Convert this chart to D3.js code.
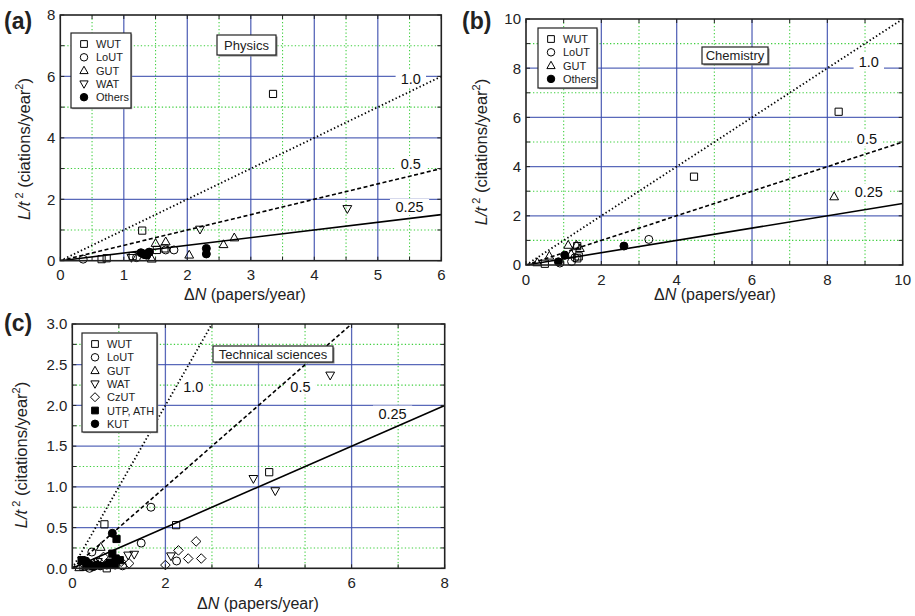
<!DOCTYPE html>
<html><head><meta charset="utf-8">
<script src="https://cdn.jsdelivr.net/npm/d3@7"></script>
<style>body{margin:0;background:#fff}svg{display:block;font-family:"Liberation Sans",Arial,sans-serif}</style>
</head><body><svg id="c" width="915" height="616"></svg>
<script>
// ---------- DATA ----------
const physWUT = [[3.35,5.43],[1.29,0.98],[0.65,0.05],[0.73,0.08],[1.14,0.15],[1.52,0.35],[1.64,0.40]];
const physLoUT = [[0.36,0.05],[1.79,0.35],[1.66,0.35],[1.2,0.1]];
const physGUT = [[1.5,0.57],[1.66,0.62],[2.03,0.19],[2.57,0.53],[2.74,0.75],[1.44,0.06]];
const physWAT = [[4.52,1.69],[2.2,1.02],[1.12,0.1]];
const physOthers = [[1.27,0.26],[1.32,0.2],[1.36,0.18],[1.4,0.28],[2.3,0.40],[2.3,0.22]];

const chemWUT = [[8.3,6.23],[4.46,3.59],[1.36,0.27],[1.36,0.77],[1.4,0.35],[0.5,0.05]];
const chemLoUT = [[3.26,1.04],[1.21,0.14],[1.3,0.3],[0.9,0.08]];
const chemGUT = [[8.18,2.78],[1.12,0.81],[1.34,0.81],[1.43,0.68],[0.62,0.37],[1.2,0.45],[0.3,0.1]];
const chemOthers = [[0.86,0.13],[1.03,0.40],[2.6,0.77]];

const techWUT = [[0.69,0.54],[2.23,0.53],[4.23,1.18],[0.24,0.02],[0.74,0.0],[0.45,0.03]];
const techLoUT = [[1.69,0.75],[1.48,0.31],[0.42,0.20],[2.24,0.09],[0.37,0.0],[1.08,0.03],[0.8,0.05]];
const techGUT = [[0.61,0.26],[0.15,0.01],[0.3,0.02],[0.55,0.05]];
const techWAT = [[5.54,2.37],[3.89,1.1],[4.36,0.95],[1.2,0.16],[1.33,0.17],[2.12,0.15],[0.55,0.08]];
const techCzUT = [[2.66,0.33],[2.28,0.22],[2.0,0.04],[2.49,0.12],[2.77,0.12],[1.22,0.06],[0.67,0.14],[0.5,0.06],[1.05,0.08]];
const techUTP = [[0.95,0.36],[0.86,0.18],[0.2,0.1],[1.02,0.1],[0.8,0.07],[0.3,0.05],[0.93,0.12]];
const techKUT = [[0.86,0.43],[0.34,0.06],[0.52,0.04],[0.74,0.04],[0.92,0.04],[0.29,0.09],[0.6,0.03],[0.45,0.02]];

const slopes = [1.0, 0.5, 0.25];
const physXTicks = [0,1,2,3,4,5,6];
const physYTicks = [0,2,4,6,8];
const chemXTicks = [0,2,4,6,8,10];
const chemYTicks = [0,2,4,6,8,10];
const techXTicks = [0,2,4,6,8];
const techYTicks = [0,0.5,1.0,1.5,2.0,2.5,3.0];

// ---------- DRAWING ----------
const svg = d3.select("#c");
const BLUE = "#3d4fae", GREEN = "#3fcf3f";

function symPath(type, s) {
  const p = d3.path();
  if (type === "square" || type === "fsquare") { p.rect(-s*0.45, -s*0.45, s*0.9, s*0.9); }
  else if (type === "circle" || type === "fcircle") { p.arc(0,0,s*0.5,0,2*Math.PI); }
  else if (type === "up") { p.moveTo(0,-s*0.58); p.lineTo(s*0.55,s*0.4); p.lineTo(-s*0.55,s*0.4); p.closePath(); }
  else if (type === "down") { p.moveTo(0,s*0.58); p.lineTo(s*0.55,-s*0.4); p.lineTo(-s*0.55,-s*0.4); p.closePath(); }
  else if (type === "diamond") { p.moveTo(0,-s*0.6); p.lineTo(s*0.6,0); p.lineTo(0,s*0.6); p.lineTo(-s*0.6,0); p.closePath(); }
  return p.toString();
}
const filled = t => t === "fcircle" || t === "fsquare";

function panel(cfg) {
  const x = d3.scaleLinear().domain(cfg.xd).range([cfg.l, cfg.r]);
  const y = d3.scaleLinear().domain(cfg.yd).range([cfg.b, cfg.t]);
  const g = svg.append("g");
  const clipId = "clip" + cfg.id;
  svg.append("clipPath").attr("id", clipId).append("rect")
    .attr("x", cfg.l).attr("y", cfg.t).attr("width", cfg.r - cfg.l).attr("height", cfg.b - cfg.t);

  const xMinor = cfg.xTicks.slice(0,-1).map((v,i)=> (v + cfg.xTicks[i+1])/2);
  const yMinor = cfg.yTicks.slice(0,-1).map((v,i)=> (v + cfg.yTicks[i+1])/2);
  g.selectAll(".gxm").data(xMinor).join("line").attr("x1", d=>x(d)).attr("x2", d=>x(d))
    .attr("y1", cfg.t).attr("y2", cfg.b).attr("stroke", GREEN).attr("stroke-width", 1.1).attr("stroke-dasharray", "1.3,2.2");
  g.selectAll(".gym").data(yMinor).join("line").attr("y1", d=>y(d)).attr("y2", d=>y(d))
    .attr("x1", cfg.l).attr("x2", cfg.r).attr("stroke", GREEN).attr("stroke-width", 1.1).attr("stroke-dasharray", "1.3,2.2");
  g.selectAll(".gx").data(cfg.xTicks.slice(1,-1)).join("line").attr("x1", d=>x(d)).attr("x2", d=>x(d))
    .attr("y1", cfg.t).attr("y2", cfg.b).attr("stroke", BLUE).attr("stroke-width", 1.3).attr("opacity", 0.85);
  g.selectAll(".gy").data(cfg.yTicks.slice(1,-1)).join("line").attr("y1", d=>y(d)).attr("y2", d=>y(d))
    .attr("x1", cfg.l).attr("x2", cfg.r).attr("stroke", BLUE).attr("stroke-width", 1.3).attr("opacity", 0.85);

  const lab = g.selectAll(".sl").data(cfg.slopeLab).join("g")
    .attr("transform", d => `translate(${x(d[0])},${y(d[1])})`);
  lab.append("rect").attr("x", d => -d[2].length*4.4 - 2).attr("y", -8).attr("width", d => d[2].length*8.8 + 4).attr("height", 16).attr("fill", "#fff");

  const dashes = ["1.4,2.4", "4,2.5", null];
  const lg = g.append("g").attr("clip-path", `url(#${clipId})`);
  slopes.forEach((s, i) => {
    const xe = Math.min(cfg.xd[1], cfg.yd[1] / s);
    lg.append("line").attr("x1", x(0)).attr("y1", y(0)).attr("x2", x(xe)).attr("y2", y(s*xe))
      .attr("stroke", "#000").attr("stroke-width", i===0?1.8:1.6)
      .attr("stroke-dasharray", dashes[i]);
  });
  lab.append("text").attr("text-anchor", "middle").attr("y", 5.5).attr("font-size", 14.5).attr("fill", "#111")
    .text(d => d[2]);

  const pg = g.append("g");
  cfg.series.forEach(s => {
    pg.selectAll(null).data(s.data).join("path")
      .attr("transform", d => `translate(${x(d[0])},${y(d[1])})`)
      .attr("d", symPath(s.type, 8))
      .attr("fill", filled(s.type) ? "#000" : "#fff")
      .attr("fill-opacity", filled(s.type) ? 1 : 0)
      .attr("stroke", "#000").attr("stroke-width", 1);
  });

  g.append("rect").attr("x", cfg.l).attr("y", cfg.t).attr("width", cfg.r-cfg.l).attr("height", cfg.b-cfg.t)
    .attr("fill", "none").attr("stroke", "#222").attr("stroke-width", 1.6);
  const tk = 4;
  [...cfg.xTicks, ...xMinor].forEach(v => {
    g.append("line").attr("x1", x(v)).attr("x2", x(v)).attr("y1", cfg.b).attr("y2", cfg.b - tk).attr("stroke", "#222");
    g.append("line").attr("x1", x(v)).attr("x2", x(v)).attr("y1", cfg.t).attr("y2", cfg.t + tk).attr("stroke", "#222");
  });
  [...cfg.yTicks, ...yMinor].forEach(v => {
    g.append("line").attr("y1", y(v)).attr("y2", y(v)).attr("x1", cfg.l).attr("x2", cfg.l + tk).attr("stroke", "#222");
    g.append("line").attr("y1", y(v)).attr("y2", y(v)).attr("x1", cfg.r).attr("x2", cfg.r - tk).attr("stroke", "#222");
  });

  g.selectAll(".xl").data(cfg.xTicks).join("text").attr("x", d=>x(d)).attr("y", cfg.b + 19.5)
    .attr("text-anchor", "middle").attr("font-size", 15).attr("fill", "#222").text(d => cfg.xfmt(d));
  g.selectAll(".yl").data(cfg.yTicks).join("text").attr("x", cfg.l - 5).attr("y", d=>y(d) + 5.3)
    .attr("text-anchor", "end").attr("font-size", 15).attr("fill", "#222").text(d => cfg.yfmt(d));

  const xt = g.append("text").attr("x", cfg.xlx).attr("y", cfg.xly).attr("text-anchor", "middle").attr("font-size", 16).attr("fill", "#222");
  xt.append("tspan").text("\u0394");
  xt.append("tspan").attr("font-style", "italic").text("N");
  xt.append("tspan").text(" (papers/year)");
  const yt = g.append("text").attr("transform", `translate(${cfg.ylx},${cfg.yly}) rotate(-90)`)
    .attr("text-anchor", "middle").attr("font-size", 16.5).attr("fill", "#222");
  yt.append("tspan").attr("font-style", "italic").text("L/t");
  yt.append("tspan").attr("dy", -7).attr("font-size", 11).text(" 2");
  yt.append("tspan").attr("dy", 7).text(" (" + cfg.yword + "/year");
  yt.append("tspan").attr("dy", -7).attr("font-size", 11).text("2");
  yt.append("tspan").attr("dy", 7).text(")");

  g.append("text").attr("x", cfg.px).attr("y", cfg.py).attr("font-size", 23).attr("font-weight", "bold").attr("fill", "#222").text(cfg.letter);

  const tb = g.append("g").attr("transform", `translate(${cfg.tbx},${cfg.tby})`);
  tb.append("rect").attr("x", 1.5).attr("y", 1.5).attr("width", cfg.tbw).attr("height", cfg.tbh).attr("fill", "#888");
  tb.append("rect").attr("width", cfg.tbw).attr("height", cfg.tbh).attr("fill", "#fff").attr("stroke", "#222").attr("stroke-width", 1.2);
  tb.append("text").attr("x", cfg.tbw/2).attr("y", cfg.tbh/2 + 4.5).attr("text-anchor", "middle").attr("font-size", 13).attr("fill", "#222").text(cfg.title);

  const lgd = g.append("g").attr("transform", `translate(${cfg.lgx},${cfg.lgy})`);
  lgd.append("rect").attr("x", 1.2).attr("y", 1.2).attr("width", cfg.lgw).attr("height", cfg.lgh).attr("fill", "#999");
  lgd.append("rect").attr("width", cfg.lgw).attr("height", cfg.lgh).attr("fill", "#fff").attr("stroke", "#222").attr("stroke-width", 1.2);
  cfg.series.forEach((s, i) => {
    const yy = 11 + i * 13.3;
    lgd.append("path").attr("transform", `translate(13,${yy})`).attr("d", symPath(s.type, 7.5))
      .attr("fill", filled(s.type) ? "#000" : "#fff").attr("stroke", "#000").attr("stroke-width", 1);
    lgd.append("text").attr("x", 25).attr("y", yy + 4).attr("font-size", 11).attr("fill", "#222").text(s.name);
  });
}

const intFmt = d => String(d);
const oneDec = d => d.toFixed(1);
panel({id:"a", l:60.3, r:441.3, t:15, b:260.7, xd:[0,6], yd:[0,8], xTicks:physXTicks, yTicks:physYTicks, xfmt:intFmt, yfmt:intFmt,
  slopeLab:[[5.52,5.92,"1.0"],[5.52,3.15,"0.5"],[5.5,1.75,"0.25"]],
  series:[{name:"WUT",type:"square",data:physWUT},{name:"LoUT",type:"circle",data:physLoUT},{name:"GUT",type:"up",data:physGUT},
          {name:"WAT",type:"down",data:physWAT},{name:"Others",type:"fcircle",data:physOthers}],
  xlx:245, xly:300, ylx:30, yly:149, yword:"ciations", px:4, py:29, letter:"(a)",
  tbx:217, tby:35, tbw:59, tbh:20, title:"Physics", lgx:71, lgy:33, lgw:60, lgh:75});

panel({id:"b", l:526, r:902.7, t:19, b:265, xd:[0,10], yd:[0,10], xTicks:chemXTicks, yTicks:chemYTicks, xfmt:intFmt, yfmt:intFmt,
  slopeLab:[[9.1,8.29,"1.0"],[9.05,5.16,"0.5"],[9.1,2.97,"0.25"]],
  series:[{name:"WUT",type:"square",data:chemWUT},{name:"LoUT",type:"circle",data:chemLoUT},{name:"GUT",type:"up",data:chemGUT},
          {name:"Others",type:"fcircle",data:chemOthers}],
  xlx:715, xly:300, ylx:487, yly:152, yword:"citations", px:462, py:29, letter:"(b)",
  tbx:702, tby:47, tbw:66, tbh:17, title:"Chemistry", lgx:538, lgy:28, lgw:59, lgh:60});

panel({id:"c", l:72.3, r:444.7, t:324, b:568.3, xd:[0,8], yd:[0,3], xTicks:techXTicks, yTicks:techYTicks, xfmt:intFmt, yfmt:oneDec,
  slopeLab:[[2.6,2.23,"1.0"],[4.9,2.23,"0.5"],[6.88,1.9,"0.25"]],
  series:[{name:"WUT",type:"square",data:techWUT},{name:"LoUT",type:"circle",data:techLoUT},{name:"GUT",type:"up",data:techGUT},
          {name:"WAT",type:"down",data:techWAT},{name:"CzUT",type:"diamond",data:techCzUT},{name:"UTP, ATH",type:"fsquare",data:techUTP},
          {name:"KUT",type:"fcircle",data:techKUT}],
  xlx:258, xly:609, ylx:27, yly:455, yword:"citations", px:4, py:331, letter:"(c)",
  tbx:213, tby:346, tbw:120, tbh:16, title:"Technical sciences", lgx:82, lgy:333, lgw:75, lgh:99});
</script></body></html>
